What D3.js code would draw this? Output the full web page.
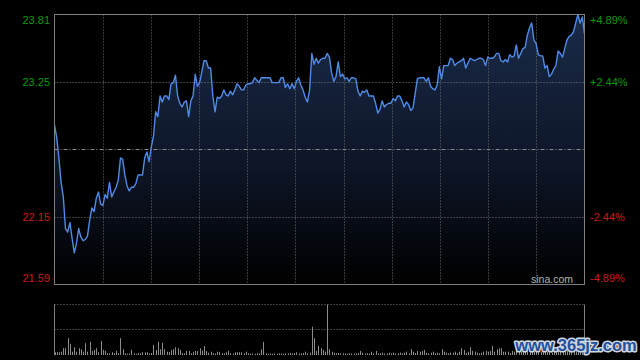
<!DOCTYPE html>
<html><head><meta charset="utf-8">
<script src="https://cdn.jsdelivr.net/npm/d3@7/dist/d3.min.js"></script>
<style>html,body{margin:0;padding:0;background:#000;}svg{display:block;}</style>
</head><body>
<svg id="chart" width="640" height="360"></svg>
<script>
// ---- data (one value per minute) ----
const prices = [
22.90,22.80,22.63,22.43,22.31,22.05,22.02,22.10,21.97,21.85,
21.93,22.05,21.98,21.95,21.96,21.99,22.12,22.22,22.19,22.30,
22.35,22.25,22.24,22.33,22.30,22.43,22.31,22.35,22.39,22.45,
22.63,22.62,22.49,22.40,22.36,22.39,22.39,22.42,22.49,22.49,
22.49,22.63,22.68,22.60,22.72,22.81,23.01,22.97,23.14,23.09,
23.14,23.14,23.11,23.24,23.25,23.31,23.14,23.08,23.05,23.09,
23.10,22.97,23.10,23.14,23.32,23.22,23.25,23.34,23.43,23.43,
23.37,23.37,23.14,23.01,23.13,23.12,23.14,23.19,23.15,23.14,
23.18,23.15,23.19,23.24,23.22,23.19,23.19,23.23,23.24,23.24,
23.25,23.29,23.27,23.25,23.29,23.29,23.29,23.29,23.29,23.25,
23.25,23.25,23.25,23.29,23.29,23.21,23.24,23.20,23.24,23.20,
23.26,23.29,23.23,23.19,23.13,23.09,23.19,23.49,23.40,23.45,
23.41,23.44,23.45,23.45,23.49,23.46,23.33,23.26,23.30,23.42,
23.30,23.32,23.28,23.29,23.26,23.29,23.29,23.28,23.18,23.14,
23.18,23.17,23.19,23.14,23.14,23.14,23.08,23.00,23.03,23.10,
23.05,23.07,23.08,23.08,23.12,23.10,23.14,23.14,23.10,23.05,
23.09,23.07,23.02,23.04,23.16,23.28,23.29,23.29,23.29,23.26,
23.29,23.22,23.20,23.19,23.23,23.38,23.28,23.39,23.39,23.39,
23.45,23.44,23.39,23.41,23.42,23.43,23.45,23.37,23.41,23.45,
23.44,23.43,23.44,23.45,23.45,23.44,23.39,23.46,23.45,23.45,
23.46,23.49,23.49,23.43,23.42,23.44,23.42,23.48,23.46,23.47,
23.56,23.45,23.49,23.53,23.54,23.64,23.70,23.74,23.60,23.57,
23.48,23.47,23.47,23.37,23.39,23.30,23.32,23.36,23.39,23.51,
23.49,23.46,23.53,23.60,23.63,23.64,23.67,23.74,23.81,23.74,
23.79,23.65
];
const volumes = [
270,270,270,330,670,670,1670,1100,330,770,
330,670,570,330,1170,330,1300,400,500,670,
270,1400,500,400,170,170,270,170,400,170,
1670,570,170,120,150,500,170,120,200,150,
270,270,270,150,200,1000,500,1300,570,1200,
570,330,270,500,570,770,670,500,200,170,
400,400,170,270,400,400,670,430,900,400,
230,330,170,150,330,270,170,150,270,400,
170,150,270,270,270,270,150,330,170,120,
150,120,170,150,570,1300,170,120,150,120,
150,120,170,150,120,170,150,200,150,170,
270,150,170,200,330,170,230,2800,1670,400,
900,670,500,330,5000,570,330,230,170,200,
150,170,150,120,170,150,120,170,200,400,
230,150,170,150,330,170,400,150,170,230,
150,170,230,150,230,150,170,230,150,230,
330,170,570,330,200,400,330,400,500,230,
170,230,330,170,230,170,570,330,230,170,
230,230,330,170,330,670,500,200,330,770,
400,330,230,170,230,330,400,330,400,900,
330,570,670,670,330,330,330,200,400,330,
400,270,330,400,500,570,670,500,400,330,
270,330,270,400,330,270,230,330,270,400,
330,270,330,400,330,270,330,400,500,330,
270,400
];
const prevClose = 22.70;
const priceTicks = [23.81, 23.255, 22.145, 21.59];
const priceTickLabels = ["23.81", "23.25", "22.15", "21.59"];
const pctTickLabels = ["+4.89%", "+2.44%", "-2.44%", "-4.89%"];
const source = "sina.com";
const watermark = "www.365jz.com";

// ---- layout ----
const svg = d3.select("#chart");
const L = 54.5, R = 584.5, T = 14.5, B = 284.5;
const VT = 304.5, VB = 355;
const yMax = 23.81, yMin = 21.59;

svg.append("rect").attr("width",640).attr("height",360).attr("fill","#000");

const x = d3.scaleLinear().domain([0, prices.length - 1]).range([L, R]);
const y = d3.scaleLinear().domain([yMin, yMax]).range([B, T]);
const yv = d3.scaleLinear().domain([0, d3.max(volumes)]).range([VB, VT]);

const defs = svg.append("defs");
const grad = defs.append("linearGradient").attr("id","fillGrad")
  .attr("gradientUnits","userSpaceOnUse").attr("x1",0).attr("x2",0).attr("y1",T).attr("y2",B);
grad.append("stop").attr("offset","0%").attr("stop-color","#1a2a48");
grad.append("stop").attr("offset","55%").attr("stop-color","#0e1628");
grad.append("stop").attr("offset","100%").attr("stop-color","#000000");

// area fill
const area = d3.area().x((d,i)=>x(i)).y0(B).y1(d=>y(d));
svg.append("path").datum(prices).attr("d",area).attr("fill","url(#fillGrad)");

// vertical grid (11 columns)
const cols = 11;
const vgrid = d3.range(1, cols).map(k => x.invert(L + (R - L) * k / cols));
svg.append("g").selectAll("line").data(vgrid).join("line")
  .attr("x1",d=>Math.round(x(d))+0.5).attr("x2",d=>Math.round(x(d))+0.5)
  .attr("y1",T).attr("y2",B)
  .attr("stroke","#6e6e6e").attr("stroke-width",1).attr("stroke-dasharray","1,2");

// horizontal grid
const hgrid = priceTicks.filter(v => v < yMax && v > yMin);
svg.append("g").selectAll("line").data(hgrid).join("line")
  .attr("x1",L).attr("x2",R)
  .attr("y1",d=>Math.floor(y(d))+0.5).attr("y2",d=>Math.floor(y(d))+0.5)
  .attr("stroke","#7a7a7a").attr("stroke-width",1).attr("stroke-dasharray","1,2");

// prev close line
svg.append("line").attr("x1",L).attr("x2",R)
  .attr("y1",Math.floor(y(prevClose))+0.5).attr("y2",Math.floor(y(prevClose))+0.5)
  .attr("stroke","#8a8a8a").attr("stroke-width",1).attr("stroke-dasharray","4,2,1,2");

// price line
const line = d3.line().x((d,i)=>x(i)).y(d=>y(d));
svg.append("path").datum(prices).attr("d",line)
  .attr("fill","none").attr("stroke","#4f8be6").attr("stroke-width",1.4)
  .attr("stroke-linejoin","round");

// frame
svg.append("rect").attr("x",L).attr("y",T).attr("width",R-L).attr("height",B-T)
  .attr("fill","none").attr("stroke","#7f7f7f").attr("stroke-width",1);

// left labels
const labelY = v => Math.max(20, Math.min(278, y(v)));
svg.append("g").selectAll("text").data(priceTicks).join("text")
  .attr("x",50).attr("y",d=>labelY(d)).attr("dy","0.35em")
  .attr("text-anchor","end")
  .attr("font-family","Liberation Sans, Arial, sans-serif").attr("font-size",11)
  .attr("fill",d=>d>prevClose?"#0d990d":"#cc1a1a")
  .text((d,i)=>priceTickLabels[i]);
// right labels
svg.append("g").selectAll("text").data(priceTicks).join("text")
  .attr("x",590).attr("y",d=>labelY(d)).attr("dy","0.35em")
  .attr("text-anchor","start")
  .attr("font-family","Liberation Sans, Arial, sans-serif").attr("font-size",11)
  .attr("fill",d=>d>prevClose?"#0d990d":"#cc1a1a")
  .text((d,i)=>pctTickLabels[i]);

// source
svg.append("text").attr("x",573).attr("y",279).attr("dy","0.35em")
  .attr("text-anchor","end").attr("font-family","Liberation Sans, Arial, sans-serif")
  .attr("font-size",10.5).attr("fill","#b4b4b4").text(source);

// volume panel
svg.append("line").attr("x1",L).attr("x2",R).attr("y1",VT).attr("y2",VT)
  .attr("stroke","#7a7a7a").attr("stroke-dasharray","1,2");
svg.append("line").attr("x1",L).attr("x2",R).attr("y1",Math.floor((VT+VB)/2)+0.5).attr("y2",Math.floor((VT+VB)/2)+0.5)
  .attr("stroke","#7a7a7a").attr("stroke-dasharray","1,2");
svg.append("line").attr("x1",L).attr("x2",L).attr("y1",VT).attr("y2",VB).attr("stroke","#7f7f7f");
svg.append("line").attr("x1",R).attr("x2",R).attr("y1",VT).attr("y2",VB).attr("stroke","#7f7f7f");
svg.append("g").selectAll("line").data(volumes).join("line")
  .attr("x1",(d,i)=>Math.round(x(i))+0.5).attr("x2",(d,i)=>Math.round(x(i))+0.5)
  .attr("y1",VB).attr("y2",d=>yv(d))
  .attr("stroke","#8c8c8c").attr("stroke-width",1);

// watermark
svg.append("text").attr("x",576).attr("y",345).attr("dy","0.35em")
  .attr("text-anchor","middle").attr("font-family","Liberation Sans, Arial, sans-serif")
  .attr("font-weight","bold").attr("font-size",16.5)
  .attr("fill","#23509c").attr("stroke","#d0d6e0").attr("stroke-width",3)
  .attr("paint-order","stroke").attr("stroke-linejoin","round")
  .text(watermark);
</script>
</body></html>
